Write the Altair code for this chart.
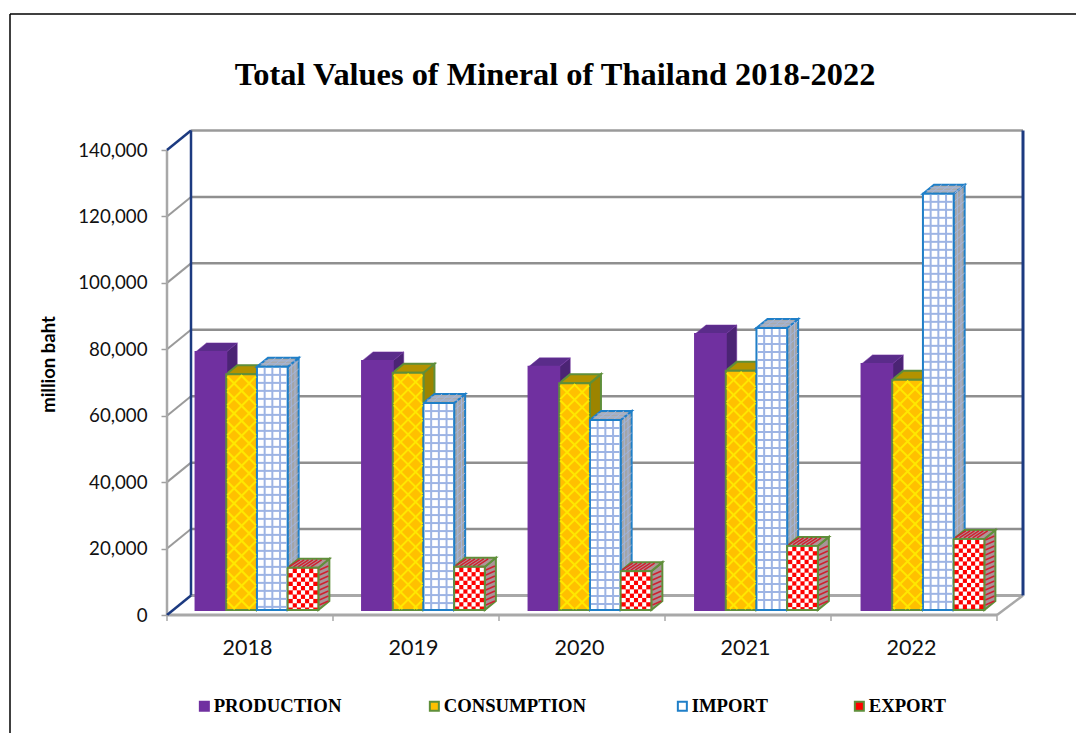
import altair as alt
import pandas as pd

# ---- values ----
years = ["2018", "2019", "2020", "2021", "2022"]
production = [77700, 75000, 73200, 83100, 74100]
consumption = [71000, 71400, 68300, 72000, 69300]
imports = [73200, 62300, 57200, 84900, 125300]
exports = [12700, 13000, 11700, 19300, 21400]
series_names = ["PRODUCTION", "CONSUMPTION", "IMPORT", "EXPORT"]
y_ticks = [0, 20000, 40000, 60000, 80000, 100000, 120000, 140000]

# ---- style ----
front_fill = ["#7030a0", "#ffc000", "#ffffff", "#ff0000"]
front_stroke = ["#7030a0", "#5f8f3a", "#1f7fc8", "#5f8f3a"]
side_fill = ["#4b2474", "#9c8400", "#a3a5a8", "#a89498"]
top_fill = ["#5a2c8a", "#b39200", "#a9abae", "#b09498"]
legend_x = [195, 425, 673, 850]
W, H = 856, 485
LEFT, TOP = 167, 130
PITCH = 166.0
PX_Y = 140000 / 465.0
PX_X = 1 / PITCH
x_scale = alt.Scale(domain=[0, W * PX_X], range=[0, W], nice=False, zero=False)
y_scale = alt.Scale(domain=[0, H * PX_Y], range=[H, 0], nice=False, zero=False)
WALL_DX = 24 * PX_X
WALL_DY = 19.5 * PX_Y
BAR_DX = 11 * PX_X
BAR_DY = 9 * PX_Y
BAR_W = 30.7 * PX_X
BAR_START = 0.172
BAR_PITCH = 166.5 * PX_X
BASE = 5 * PX_Y
RIGHT = W * PX_X

all_values = [production, consumption, imports, exports]


def enc_x(field="x"):
    return alt.X(f"{field}:Q", scale=x_scale, axis=None)


def enc_y(field="y"):
    return alt.Y(f"{field}:Q", scale=y_scale, axis=None, stack=None)


def bar_box(s, i):
    x0 = i * BAR_PITCH + BAR_START + s * BAR_W
    return x0, x0 + BAR_W, BASE, BASE + all_values[s][i]


def segments_layer(rows):
    """rows: (x0, y0, x1, y1, colour, width)"""
    recs = []
    for n, (a, b, c, d, col, w) in enumerate(rows):
        recs.append({"x": a, "y": b, "id": n, "col": col, "w": w, "o": 0})
        recs.append({"x": c, "y": d, "id": n, "col": col, "w": w, "o": 1})
    return (
        alt.Chart(pd.DataFrame(recs))
        .mark_line(clip=False, strokeCap="butt")
        .encode(
            x=enc_x(),
            y=enc_y(),
            detail="id:N",
            order="o:Q",
            stroke=alt.Stroke("col:N", scale=None),
            strokeWidth=alt.StrokeWidth("w:Q", scale=None),
        )
    )


# ---- walls, floor, axes ----
GRID = "#8f8f8f"
FLOOR = "#a8a8a8"
NAVY = "#1c3a80"
wall_rows = []
for v in y_ticks[1:-1]:
    wall_rows.append((WALL_DX, v + WALL_DY, RIGHT, v + WALL_DY, GRID, 2.5))
    wall_rows.append((0, v, WALL_DX, v + WALL_DY, "#9a9a9a", 2))
wall_rows += [
    (WALL_DX, 140000 + WALL_DY, RIGHT, 140000 + WALL_DY, "#9a9a9a", 2.5),
    (WALL_DX, WALL_DY, RIGHT, WALL_DY, FLOOR, 3),
    (0, 0, 5, 0, FLOOR, 3),
    (5, 0, RIGHT, WALL_DY, FLOOR, 2.5),
    (0, 0, 0, 140000, FLOOR, 2.5),
    (0, 140000, WALL_DX, 140000 + WALL_DY, NAVY, 2.5),
    (0, 0, WALL_DX, WALL_DY, NAVY, 2.5),
    (WALL_DX, WALL_DY, WALL_DX, 140000 + WALL_DY, NAVY, 2.5),
    (RIGHT, WALL_DY, RIGHT, 140000 + WALL_DY, NAVY, 3),
]
for t in range(6):
    wall_rows.append((t, 0, t, -6 * PX_Y, "#a8a8a8", 1.5))

axis_base = (
    alt.Chart(pd.DataFrame({"x": [0.5], "y": [0]}))
    .mark_point(opacity=0)
    .encode(
        x=alt.X(
            "x:Q",
            scale=x_scale,
            title=None,
            axis=alt.Axis(
                values=[i + 0.5 for i in range(len(years))],
                labelExpr="[" + ",".join(f"'{y}'" for y in years) + "][floor(datum.value)]",
                ticks=False,
                domain=False,
                grid=False,
                labelFont="Lato",
                labelFontSize=21.5,
                labelColor="#111111",
                labelPadding=22,
                labelOffset=-3,
                labelFlush=False,
            ),
        ),
        y=alt.Y(
            "y:Q",
            scale=y_scale,
            title="million baht",
            axis=alt.Axis(
                values=y_ticks,
                format=",d",
                domain=False,
                grid=False,
                tickSize=6,
                tickColor="#a0a0a0",
                tickWidth=1.5,
                labelFont="Lato",
                labelFontSize=18.7,
                labelColor="#111111",
                labelPadding=14,
                labelFlush=False,
                titleFont="Lato",
                titleFontSize=18.5,
                titleFontWeight="bold",
                titleColor="#000000",
                titleX=58 - LEFT,
                titleY=364 - TOP,
                titleAngle=270,
                titleAlign="center",
            ),
        ),
    )
)

# outer frame (top and left edges of the original chart box)
frame_h = (
    alt.Chart(pd.DataFrame({"a": [0]}))
    .mark_rule(color="#000000", strokeWidth=1.5)
    .encode(x=alt.value(10 - LEFT), x2=alt.value(1084 - LEFT), y=alt.value(14 - TOP))
)
frame_v = (
    alt.Chart(pd.DataFrame({"a": [0]}))
    .mark_rule(color="#000000", strokeWidth=1.5)
    .encode(x=alt.value(10 - LEFT), y=alt.value(14 - TOP), y2=alt.value(733 - TOP))
)

layers = [frame_h, frame_v, axis_base, segments_layer(wall_rows)]

# ---- side and top faces, series by series ----
for s in range(4):
    side, top, deco = [], [], []
    for i in range(len(years)):
        x0, x1, b, t = bar_box(s, i)
        side += [
            {"x": x1, "y": b, "y2": t, "id": i},
            {"x": x1 + BAR_DX, "y": b + BAR_DY, "y2": t + BAR_DY, "id": i},
        ]
        top += [
            {"y": t, "x": x0, "x2": x1, "id": i},
            {"y": t + BAR_DY, "x": x0 + BAR_DX, "x2": x1 + BAR_DX, "id": i},
        ]
        if s == 2:  # grid texture on the import side and top
            col = "#a4b6dc"
            height_px = (t - b) / PX_Y
            for k in range(1, int(height_px // 8) + 1):
                yy = b + k * 8 * PX_Y
                deco.append((x1, yy, x1 + BAR_DX, yy + BAR_DY, col, 1))
            for f in (1 / 3, 2 / 3):
                deco.append((x1 + f * BAR_DX, b + f * BAR_DY, x1 + f * BAR_DX, t + f * BAR_DY, col, 1))
                deco.append((x0 + f * BAR_DX, t + f * BAR_DY, x1 + f * BAR_DX, t + f * BAR_DY, col, 1))
            for f in (1 / 4, 2 / 4, 3 / 4):
                xx = x0 + f * (x1 - x0)
                deco.append((xx, t, xx + BAR_DX, t + BAR_DY, col, 1))
        if s == 3:  # checker texture on the export side and top
            col = "#d02030"
            height_px = (t - b) / PX_Y
            for k in range(0, int(height_px // 5)):
                yy = b + k * 5 * PX_Y
                deco.append((x1 + PX_X, yy + 5 * PX_Y, x1 + BAR_DX - PX_X, yy + BAR_DY, col, 1.5))
            for f in range(1, 7):
                xx = x0 + f / 7 * (x1 - x0)
                deco.append((xx - 3 * PX_X, t + PX_Y, xx + BAR_DX * 0.7, t + BAR_DY - PX_Y, col, 1.5))
    layers.append(
        alt.Chart(pd.DataFrame(side))
        .mark_area(color=side_fill[s], stroke=front_stroke[s], strokeWidth=2 if s else 0.5)
        .encode(x=enc_x(), y=enc_y(), y2="y2:Q", detail="id:N")
    )
    layers.append(
        alt.Chart(pd.DataFrame(top))
        .mark_area(orient="horizontal", color=top_fill[s], stroke=front_stroke[s], strokeWidth=2 if s else 0.5)
        .encode(x=alt.X("x:Q", scale=x_scale, axis=None, stack=None), x2="x2:Q", y=alt.Y("y:Q", scale=y_scale, axis=None), detail="id:N")
    )
    if deco:
        layers.append(segments_layer(deco))

# ---- front faces with their legend entries ----
for s, name in enumerate(series_names):
    rows = []
    for i in range(len(years)):
        x0, x1, b, t = bar_box(s, i)
        rows.append({"x": x0, "x2": x1, "y": b, "y2": t, "series": name, "year": years[i], "value": all_values[s][i]})
    layers.append(
        alt.Chart(pd.DataFrame(rows))
        .mark_rect(stroke=front_stroke[s], strokeWidth=2)
        .encode(
            x=enc_x(),
            x2="x2:Q",
            y=enc_y(),
            y2="y2:Q",
            color=alt.Color(
                "series:N",
                scale=alt.Scale(domain=[name], range=[front_fill[s]]),
                legend=alt.Legend(
                    orient="none",
                    legendX=legend_x[s] - LEFT,
                    legendY=697 - TOP,
                    title=None,
                    symbolType="square",
                    symbolSize=81,
                    symbolStrokeColor=front_stroke[s],
                    symbolStrokeWidth=2,
                    labelFont="Liberation Serif",
                    labelFontWeight="bold",
                    labelFontSize=18.7,
                    labelColor="#000000",
                    labelOffset=0,
                ),
            ),
        )
    )

# ---- front face textures ----
tex = []
lines = []
for i in range(len(years)):
    # consumption: yellow diamonds
    x0, x1, b, t = bar_box(1, i)
    w_px, h_px = (x1 - x0) / PX_X - 2, (t - b) / PX_Y - 2
    p = 15.0
    c = -h_px
    while c < w_px + h_px:
        # falling and rising diagonals clipped to the face
        for sign in (1, -1):
            if sign == 1:
                a0 = max(c, 0)
                a1 = min(c + h_px, w_px)
                if a1 <= a0:
                    continue
                pts = (a0, a0 - c, a1, a1 - c)
            else:
                a0 = max(w_px - c - h_px, 0)
                a1 = min(w_px - c, w_px)
                if a1 <= a0:
                    continue
                pts = (a0, w_px - c - a0, a1, w_px - c - a1)
            lines.append(
                (
                    x0 + (1 + pts[0]) * PX_X,
                    b + (1 + pts[1]) * PX_Y,
                    x0 + (1 + pts[2]) * PX_X,
                    b + (1 + pts[3]) * PX_Y,
                    "#ffe800",
                    2,
                )
            )
        c += p
    # import: light blue grid
    x0, x1, b, t = bar_box(2, i)
    col = "#9db4e4"
    for k in range(1, 4):
        xx = x0 + k * 7.7 * PX_X
        lines.append((xx, b + 1 * PX_Y, xx, t - 1 * PX_Y, col, 2))
    yy = t - 8 * PX_Y
    while yy > b + 2 * PX_Y:
        lines.append((x0 + 1 * PX_X, yy, x1 - 1 * PX_X, yy, col, 2))
        yy -= 8 * PX_Y
    # export: red and white checks
    x0, x1, b, t = bar_box(3, i)
    cw = (x1 - x0 - 2 * PX_X) / 7
    ch = 4.3 * PX_Y
    bottom = b + 1 * PX_Y
    rr = 0
    while t - 1 * PX_Y - rr * ch > bottom + 0.5 * PX_Y:
        for cc in range(7):
            if (rr + cc) % 2 == 0:
                xa = x0 + 1 * PX_X + cc * cw
                ya = t - 1 * PX_Y - rr * ch
                tex.append({"x": xa, "x2": xa + cw, "y": ya, "y2": max(ya - ch, bottom)})
        rr += 1

layers.append(segments_layer(lines))
layers.append(
    alt.Chart(pd.DataFrame(tex))
    .mark_rect(color="#ffffff")
    .encode(x=enc_x(), x2="x2:Q", y=enc_y(), y2="y2:Q")
)

chart = (
    alt.layer(*layers)
    .resolve_scale(color="independent")
    .resolve_axis(x="independent", y="independent")
    .properties(
        width=W,
        height=H,
        padding={"left": LEFT - 8, "top": TOP - 8, "right": 1068 - (LEFT - 8) - W, "bottom": 725 - (TOP - 8) - H},
        autosize=alt.AutoSizeParams(type="none"),
        background="#ffffff",
        title=alt.TitleParams(
            "Total Values of Mineral of Thailand 2018-2022",
            font="Liberation Serif",
            fontSize=32.4,
            fontWeight="bold",
            color="#000000",
            anchor="middle",
            frame="group",
            dx=555 - (LEFT + W / 2),
            offset=-78,
        ),
    )
    .configure_view(stroke=None)
)
chart.save("out.html", embed_options={"renderer": "svg", "actions": False})
